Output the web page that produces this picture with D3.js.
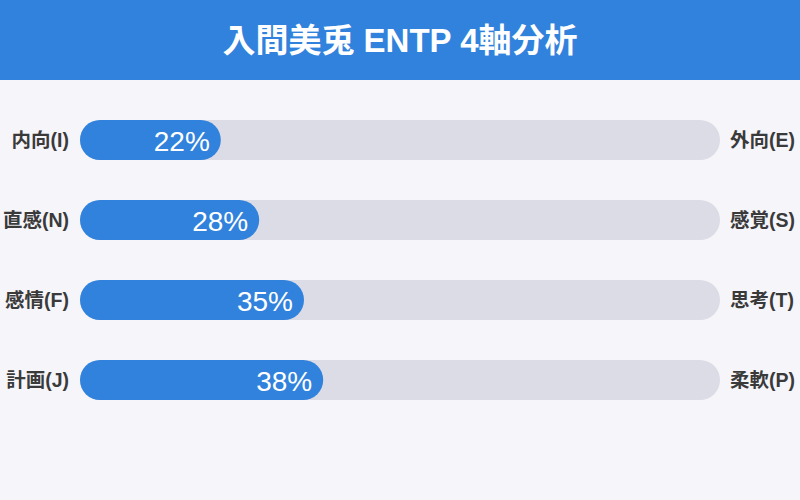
<!DOCTYPE html>
<html>
<head>
<meta charset="utf-8">
<script src="https://cdn.jsdelivr.net/npm/d3@7"></script>
<style>
  html, body { margin: 0; padding: 0; background: #f5f5fa; }
  svg { display: block; }
</style>
</head>
<body>
<svg id="chart" width="800" height="500"></svg>
<script>
const title = '入間美兎 ENTP 4軸分析';
const leftLabels = ['内向(I)', '直感(N)', '感情(F)', '計画(J)'];
const rightLabels = ['外向(E)', '感覚(S)', '思考(T)', '柔軟(P)'];
const values = [22, 28, 35, 38];

const W = 800, H = 500;
const font = '"Liberation Sans", "Noto Sans CJK JP", sans-serif';
const blue = '#3182dc';

const svg = d3.select('#chart');

svg.append('rect').attr('width', W).attr('height', H).attr('fill', '#f5f5fa');

// header band
svg.append('rect').attr('x', 0).attr('y', 0).attr('width', W).attr('height', 80).attr('fill', blue);
svg.append('text')
    .attr('x', W / 2).attr('y', 40)
    .attr('text-anchor', 'middle')
    .attr('dominant-baseline', 'central')
    .attr('fill', '#fff')
    .attr('font-family', font)
    .attr('font-size', 33)
    .attr('font-weight', 'bold')
    .text(title);

const x = d3.scaleLinear().domain([0, 100]).range([80, 720]);
const y = d3.scaleBand().domain(d3.range(values.length)).range([100, 420]).paddingInner(0.5).paddingOuter(0.25);
const bh = y.bandwidth();

const rows = svg.append('g')
    .selectAll('g')
    .data(values)
    .enter()
    .append('g')
    .attr('transform', (d, i) => `translate(0,${y(i)})`);

// track
rows.append('rect')
    .attr('x', x(0)).attr('y', 0)
    .attr('width', x(100) - x(0)).attr('height', bh)
    .attr('rx', bh / 2)
    .attr('fill', '#dcdce6');

// fill
rows.append('rect')
    .attr('x', x(0)).attr('y', 0)
    .attr('width', d => x(d) - x(0)).attr('height', bh)
    .attr('rx', bh / 2)
    .attr('fill', blue);

// percent
rows.append('text')
    .attr('x', d => x(d) - 11).attr('y', bh / 2 + 1)
    .attr('text-anchor', 'end')
    .attr('dominant-baseline', 'central')
    .attr('fill', '#fff')
    .attr('font-family', font)
    .attr('font-size', 28)
    .text(d => d + '%');

rows.append('text')
    .attr('x', 69).attr('y', bh / 2)
    .attr('text-anchor', 'end')
    .attr('dominant-baseline', 'central')
    .attr('fill', '#3a3a3a')
    .attr('font-family', font)
    .attr('font-size', 19.5)
    .attr('font-weight', 'bold')
    .text((d, i) => leftLabels[i]);

rows.append('text')
    .attr('x', 730).attr('y', bh / 2)
    .attr('text-anchor', 'start')
    .attr('dominant-baseline', 'central')
    .attr('fill', '#3a3a3a')
    .attr('font-family', font)
    .attr('font-size', 19.5)
    .attr('font-weight', 'bold')
    .text((d, i) => rightLabels[i]);
</script>
</body>
</html>
